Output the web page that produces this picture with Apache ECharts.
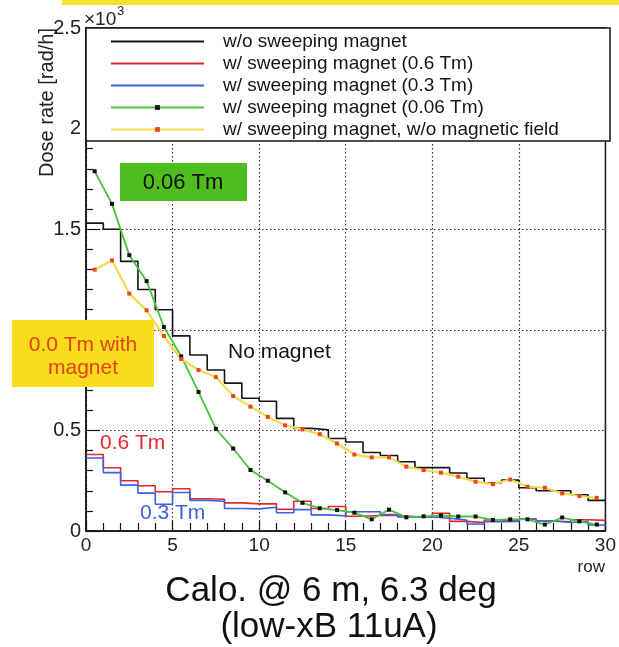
<!DOCTYPE html>
<html>
<head>
<meta charset="utf-8">
<script src="https://cdn.jsdelivr.net/npm/echarts@6/dist/echarts.min.js"></script>
<style>
  html, body { margin: 0; padding: 0; background: #fff; }
  #chart { width: 619px; height: 647px; }
</style>
</head>
<body>
<div id="chart"></div>
<script>
  // Dose rate per calorimeter row, in units of 10^3 rad/h.
  // Histograms: one value per bin [i, i+1). Graphs: one point at bin centre.
  const NO_MAGNET = [1.53, 1.50, 1.34, 1.20, 1.10, 0.97, 0.875, 0.80, 0.735, 0.66,
    0.645, 0.56, 0.51, 0.503, 0.46, 0.442, 0.39, 0.375, 0.344, 0.315,
    0.315, 0.288, 0.262, 0.24, 0.253, 0.215, 0.20, 0.20, 0.18, 0.152];
  const MAG_06 = [0.38, 0.314, 0.25, 0.225, 0.195, 0.21, 0.16, 0.158, 0.14, 0.135,
    0.135, 0.108, 0.148, 0.112, 0.122, 0.073, 0.077, 0.077, 0.072, 0.07,
    0.088, 0.048, 0.042, 0.055, 0.05, 0.06, 0.05, 0.046, 0.056, 0.053];
  const MAG_03 = [0.363, 0.29, 0.228, 0.188, 0.133, 0.191, 0.152, 0.148, 0.112, 0.11,
    0.118, 0.091, 0.106, 0.08, 0.075, 0.096, 0.096, 0.082, 0.07, 0.07,
    0.063, 0.054, 0.035, 0.046, 0.048, 0.06, 0.05, 0.042, 0.048, 0.03];
  const MAG_006 = [1.788, 1.626, 1.371, 1.242, 1.014, 0.868, 0.691, 0.508, 0.41, 0.303,
    0.25, 0.192, 0.14, 0.113, 0.104, 0.091, 0.058, 0.106, 0.068, 0.073,
    0.077, 0.072, 0.072, 0.055, 0.058, 0.058, 0.032, 0.067, 0.048, 0.032];
  const MAG_00 = [1.299, 1.345, 1.18, 1.097, 0.969, 0.855, 0.80, 0.765, 0.671, 0.618,
    0.567, 0.525, 0.505, 0.481, 0.435, 0.38, 0.366, 0.366, 0.32, 0.303,
    0.29, 0.27, 0.245, 0.233, 0.256, 0.22, 0.215, 0.187, 0.174, 0.165];

  const NAMES = [
    "w/o sweeping magnet",
    "w/ sweeping magnet (0.6 Tm)",
    "w/ sweeping magnet (0.3 Tm)",
    "w/ sweeping magnet (0.06 Tm)",
    "w/ sweeping magnet, w/o magnetic field",
  ];

  const FONT = "'Liberation Sans', Arial, Helvetica, sans-serif";
  const INK = "#151515";
  const RED = "#e2272c";
  const BLUE = "#3a62e2";
  const GREEN = "#47c23a";
  const YELLOW = "#f2d94e";
  const DOT_RED = "#e8461e";

  // histogram bins -> step line points (last edge repeats final bin)
  function steps(bins) {
    const pts = bins.map((v, i) => [i, v]);
    pts.push([bins.length, bins[bins.length - 1]]);
    return pts;
  }
  function centres(vals) {
    return vals.map((v, i) => [i + 0.5, v]);
  }

  function hist(name, bins, color) {
    return {
      name, type: "line", step: "end", data: steps(bins),
      symbol: "none", lineStyle: { color, width: 1.6 }, itemStyle: { color },
      z: 3, silent: true,
    };
  }
  function graph(name, vals, lineColor, dotColor, width) {
    return {
      name, type: "line", data: centres(vals),
      symbol: "rect", symbolSize: 4, showAllSymbol: true,
      lineStyle: { color: lineColor, width },
      itemStyle: { color: dotColor }, z: 4, silent: true,
    };
  }

  // histograms get a plain line in the legend, graphs line + marker
  const legendData = NAMES.map((name, i) =>
    i < 3 ? { name, itemStyle: { opacity: 0 } } : { name });

  const inst = echarts.init(document.getElementById("chart"), null, { renderer: "canvas" });

  inst.setOption({
    animation: false,
    grid: {
      left: 86, right: 9, top: 28, bottom: 116, show: true,
      borderColor: INK, borderWidth: 1.5, backgroundColor: "transparent",
    },
    xAxis: {
      type: "value", min: 0, max: 30, interval: 5,
      axisLine: { lineStyle: { color: INK, width: 1.5 } },
      axisTick: { inside: true, length: 10, lineStyle: { color: INK, width: 1.2 } },
      minorTick: { show: true, splitNumber: 5, length: 8, lineStyle: { color: INK, width: 1.2 } },
      axisLabel: { color: "#222", fontSize: 19, fontFamily: FONT, margin: 5 },
      splitLine: { show: true, lineStyle: { color: "#333", type: [1.5, 2.5], width: 1.2 } },
    },
    yAxis: {
      type: "value", min: 0, max: 2.5, interval: 0.5,
      axisLine: { lineStyle: { color: INK, width: 1.5 } },
      axisTick: { inside: true, length: 14, lineStyle: { color: INK, width: 1.2 } },
      minorTick: { show: true, splitNumber: 5, length: 7, lineStyle: { color: INK, width: 1.2 } },
      axisLabel: { color: "#222", fontSize: 20, fontFamily: FONT, margin: 5 },
      splitLine: { show: true, lineStyle: { color: "#333", type: [1.5, 2.5], width: 1.2 } },
    },
    legend: {
      orient: "vertical", left: 105, top: 27,
      itemWidth: 93, itemHeight: 6, itemGap: 3,
      selectedMode: false, z: 200,
      textStyle: { fontSize: 19, fontFamily: FONT, color: INK, lineHeight: 19, padding: [0, 0, 0, 14] },
      data: legendData,
    },
    graphic: [
      { type: "rect", shape: { x: 62, y: 0, width: 557, height: 5 }, style: { fill: "#f6e42a" } },
      {
        type: "rect", z: 100, shape: { x: 86, y: 28, width: 524, height: 113 },
        style: { fill: "#fff", stroke: INK, lineWidth: 1.5 },
      },
      { type: "text", x: 84, y: 20, style: { text: "×10", font: "19px " + FONT, fill: "#222", textVerticalAlign: "middle" } },
      { type: "text", x: 117, y: 11, style: { text: "3", font: "13px " + FONT, fill: "#222", textVerticalAlign: "middle" } },
      {
        type: "text", x: 47, y: 28, rotation: Math.PI / 2,
        style: { text: "Dose rate [rad/h]", font: "20px " + FONT, fill: "#222", textAlign: "right", textVerticalAlign: "middle" },
      },
      { type: "text", x: 605, y: 567, style: { text: "row", font: "17px " + FONT, fill: "#222", textAlign: "right", textVerticalAlign: "middle" } },

      // annotations
      { type: "rect", z: 50, shape: { x: 120, y: 163, width: 127, height: 38 }, style: { fill: "#4fbd1e" } },
      { type: "text", z: 51, x: 183, y: 183, style: { text: "0.06 Tm", font: "22px " + FONT, fill: "#111", textAlign: "center", textVerticalAlign: "middle" } },
      { type: "rect", z: 50, shape: { x: 12, y: 320, width: 142, height: 67 }, style: { fill: "#f8dd1c" } },
      { type: "text", z: 51, x: 83, y: 345, style: { text: "0.0 Tm with", font: "21px " + FONT, fill: "#e5401c", textAlign: "center", textVerticalAlign: "middle" } },
      { type: "text", z: 51, x: 83, y: 368, style: { text: "magnet", font: "21px " + FONT, fill: "#e5401c", textAlign: "center", textVerticalAlign: "middle" } },
      { type: "text", z: 51, x: 228, y: 352, style: { text: "No magnet", font: "21px " + FONT, fill: "#111", textVerticalAlign: "middle" } },
      { type: "text", z: 51, x: 100, y: 443, style: { text: "0.6 Tm", font: "21px " + FONT, fill: RED, textVerticalAlign: "middle" } },
      { type: "text", z: 51, x: 140, y: 513, style: { text: "0.3 Tm", font: "21px " + FONT, fill: BLUE, textVerticalAlign: "middle" } },

      // caption
      { type: "text", x: 331, y: 591, style: { text: "Calo. @ 6 m, 6.3 deg", font: "35px " + FONT, fill: "#111", textAlign: "center", textVerticalAlign: "middle" } },
      { type: "text", x: 329, y: 627, style: { text: "(low-xB 11uA)", font: "35px " + FONT, fill: "#111", textAlign: "center", textVerticalAlign: "middle" } },
    ],
    series: [
      hist(NAMES[0], NO_MAGNET, INK),
      hist(NAMES[1], MAG_06, RED),
      hist(NAMES[2], MAG_03, BLUE),
      graph(NAMES[3], MAG_006, GREEN, "#111", 1.8),
      graph(NAMES[4], MAG_00, YELLOW, DOT_RED, 2.2),
    ],
  });
</script>
</body>
</html>
